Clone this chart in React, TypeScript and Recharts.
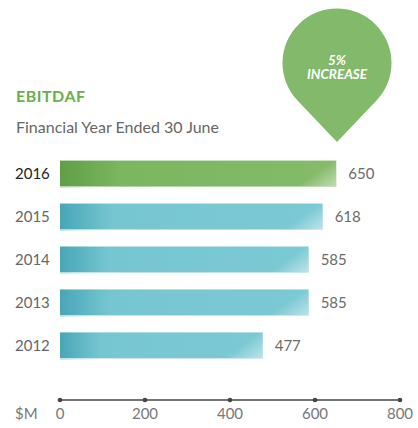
import React from 'react';
import { BarChart, Bar, XAxis, YAxis, LabelList } from 'recharts';

const years = [2016, 2015, 2014, 2013, 2012];
const ebitdaf = [650, 618, 585, 585, 477];
const xTicks = [0, 200, 400, 600, 800];
const yDomain = [2010.74, 2016.56];
const highlightYear = 2016;
const unitLabel = '$M';
const title = 'EBITDAF';
const subtitle = 'Financial Year Ended 30 June';
const badgeLines = ['5%', 'INCREASE'];

const data = years.map((y, i) => ({ year: y, value: ebitdaf[i] }));

const FONT = 'Lato, "Open Sans", sans-serif';

const BarShape = (props: any) => {
  const { x, y, width, height, payload } = props;
  const hl = payload.year === highlightYear;
  const shineW = Math.min(36, width);
  return (
    <g>
      <rect x={x} y={y} width={width} height={height} fill={hl ? 'url(#greenH)' : 'url(#tealH)'} />
      <rect x={x + width - shineW} y={y} width={shineW} height={height} fill="url(#shine)" />
      <rect x={x} y={y + height} width={Math.min(60, width)} height={1.5} fill={hl ? 'url(#greenLine)' : 'url(#tealLine)'} />
    </g>
  );
};

const YTick = (props: any) => {
  const { x, y, payload } = props;
  const hl = payload.value === highlightYear;
  return (
    <text x={x - 45} y={y} dy="0.35em" textAnchor="start" fontFamily={FONT} fontSize={15} fill={hl ? '#222' : '#666'}>
      {payload.value}
    </text>
  );
};

const XTick = (props: any) => {
  const { x, y, payload, index } = props;
  return (
    <g>
      <circle cx={x} cy={y} r={2.3} fill="#444" />
      <text x={x} y={y + 19} textAnchor="middle" fontFamily={FONT} fontSize={15} fill="#777">
        {payload.value}
      </text>
      {index === 0 ? (
        <text x={x - 45} y={y + 19} textAnchor="start" fontFamily={FONT} fontSize={15} fill="#777">
          {unitLabel}
        </text>
      ) : null}
    </g>
  );
};

export default function App() {
  return (
    <div style={{ position: 'absolute', left: 0, top: 0, width: 418, height: 428, background: '#fff' }}>
      <div style={{ position: 'absolute', left: 16, top: 86, fontFamily: FONT, fontWeight: 700, fontSize: 16, letterSpacing: 0.5, color: '#6aae4e', lineHeight: '20px' }}>
        {title}
      </div>
      <div style={{ position: 'absolute', left: 16, top: 117, fontFamily: FONT, fontSize: 16, color: '#666', lineHeight: '20px' }}>
        {subtitle}
      </div>
      <svg width={418} height={150} style={{ position: 'absolute', left: 0, top: 0 }}>
        <path d="M 297.5 100.6 A 54.5 54.5 0 1 1 376.5 100.6 L 337 142 Z" fill="#82b96a" />
        <text x={337} y={64.5} textAnchor="middle" fontFamily={FONT} fontWeight={700} fontStyle="italic" fontSize={13.5} fill="#fff">
          {badgeLines[0]}
        </text>
        <text x={337} y={79} textAnchor="middle" fontFamily={FONT} fontWeight={700} fontStyle="italic" fontSize={13.5} fill="#fff">
          {badgeLines[1]}
        </text>
      </svg>
      <div style={{ position: 'absolute', left: 0, top: 0 }}>
        <BarChart
          width={418}
          height={428}
          data={data}
          layout="vertical"
          margin={{ top: 150, right: 18, bottom: 0, left: 0 }}
        >
          <defs>
            <linearGradient id="greenH" x1="0" y1="0" x2="1" y2="0">
              <stop offset="0" stopColor="#5f9f46" />
              <stop offset="0.22" stopColor="#7bb660" />
              <stop offset="1" stopColor="#85bb6a" />
            </linearGradient>
            <linearGradient id="tealH" x1="0" y1="0" x2="1" y2="0">
              <stop offset="0" stopColor="#48a6b6" />
              <stop offset="0.2" stopColor="#76c6d1" />
              <stop offset="1" stopColor="#7bc9d4" />
            </linearGradient>
            <linearGradient id="shine" x1="0" y1="0" x2="1" y2="1">
              <stop offset="0" stopColor="#ffffff" stopOpacity={0} />
              <stop offset="0.45" stopColor="#ffffff" stopOpacity={0} />
              <stop offset="1" stopColor="#ffffff" stopOpacity={0.5} />
            </linearGradient>
            <linearGradient id="greenLine" x1="0" y1="0" x2="1" y2="0">
              <stop offset="0" stopColor="#cfe8c4" />
              <stop offset="1" stopColor="#ffffff" stopOpacity={0} />
            </linearGradient>
            <linearGradient id="tealLine" x1="0" y1="0" x2="1" y2="0">
              <stop offset="0" stopColor="#c4e6ec" />
              <stop offset="1" stopColor="#ffffff" stopOpacity={0} />
            </linearGradient>
          </defs>
          <XAxis
            type="number"
            domain={[0, 800]}
            ticks={xTicks}
            allowDataOverflow
            height={28}
            axisLine={{ stroke: '#444', strokeWidth: 1.5 }}
            tickLine={false}
            tickSize={0}
            tickMargin={0}
            tick={<XTick />}
            interval={0}
          />
          <YAxis
            type="number"
            dataKey="year"
            domain={yDomain}
            ticks={years}
            allowDataOverflow
            reversed
            width={60}
            axisLine={false}
            tickLine={false}
            tickSize={0}
            tickMargin={0}
            tick={<YTick />}
            interval={0}
          />
          <Bar dataKey="value" barSize={26} shape={<BarShape />} isAnimationActive={false}>
            <LabelList dataKey="value" position="right" offset={12} fill="#6b6b6b" fontSize={15} fontFamily={FONT} />
          </Bar>
        </BarChart>
      </div>
    </div>
  );
}
